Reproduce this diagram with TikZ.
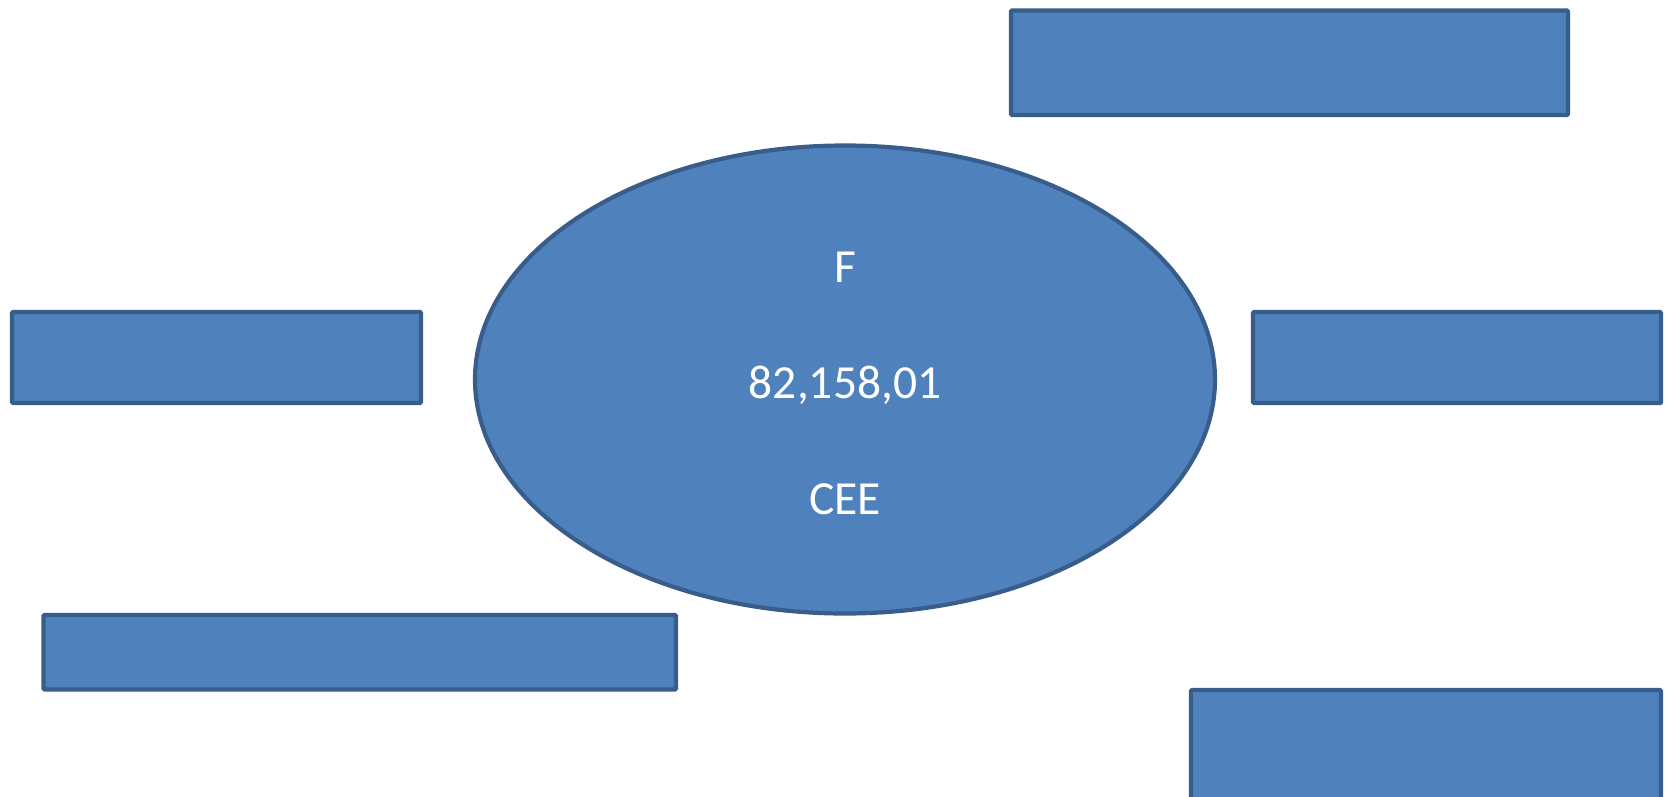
\documentclass[tikz,border=0pt]{standalone}
\usepackage{fontspec}
\setmainfont{Carlito}
\usetikzlibrary{shapes.geometric}
\definecolor{boxfill}{HTML}{4F81BD}
\definecolor{boxline}{HTML}{385D8A}
\tikzset{
  blbox/.style={draw=boxline, fill=boxfill, line width=4.2pt, rounded corners=1pt},
  blell/.style={ellipse, draw=boxline, fill=boxfill, line width=4.2pt, inner sep=0pt,
    text=white, align=center, font=\fontsize{47.5}{116}\selectfont}
}
\begin{document}
\begin{tikzpicture}[x=1pt,y=-1pt]
\useasboundingbox (0,0) rectangle (1667,796);
\clip (0,0) rectangle (1667,796);
\node[blell, minimum width=740pt, minimum height=468pt] (ell) at (845,379.5) {};
\node[text=white, align=center, font=\fontsize{47.5}{116}\selectfont, inner sep=0pt] (elltext) at ([yshift=-4pt]ell.center) {F\\82,158,01\\CEE};
\draw[blbox] (1011,10.5) rectangle (1568,115) coordinate (topbox);
\draw[blbox] (12,312) rectangle (421,403) coordinate (leftbox);
\draw[blbox] (1253,312) rectangle (1661,403) coordinate (rightbox);
\draw[blbox] (43.5,615) rectangle (676,689.5) coordinate (blbox);
\draw[blbox] (1191,690) rectangle (1661,830) coordinate (brbox);
\end{tikzpicture}
\end{document}
